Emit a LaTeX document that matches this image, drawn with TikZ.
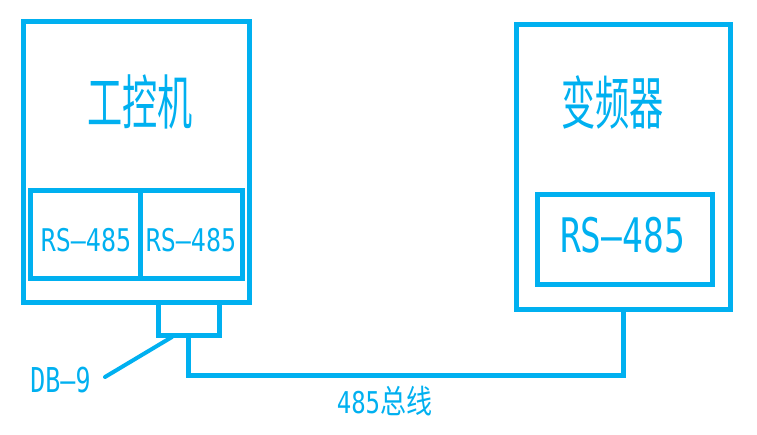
\documentclass[tikz,border=0pt]{standalone}
\usepackage{fontspec}
\newfontfamily\cjk{Noto Sans CJK SC}
\newfontfamily\latf{DejaVu Sans Mono}
\definecolor{cad}{RGB}{0,176,240}
\tikzset{
  box/.style={draw=cad, line width=5pt, rectangle, inner sep=0pt},
  txt/.style={text=cad, inner sep=0pt},
  wire/.style={draw=cad, line width=5pt, line join=miter},
  lead/.style={draw=cad, line width=4pt, line cap=round}
}
\begin{document}
\begin{tikzpicture}[x=1pt,y=-1pt]
\useasboundingbox (0,0) rectangle (757,435);
% industrial PC
\node[box, minimum width=226pt, minimum height=281.5pt] (ipc) at (136,162.25) {};
\node[box, minimum width=110pt, minimum height=88pt] (port1) at (85,235) {};
\node[box, minimum width=102pt, minimum height=88pt] (port2) at (191,235) {};
\node[box, minimum width=61pt, minimum height=32pt] (db9) at (188.5,319) {};
\node[txt] (ipct) at (140,102) {\scalebox{0.95}[1.6]{\fontsize{37}{37}\selectfont\cjk 工控机}};
\node[txt] (p1t) at (86,240) {\scalebox{1}[1.25]{\fontsize{25}{25}\selectfont\latf RS–485}};
\node[txt] (p2t) at (191,240) {\scalebox{1}[1.25]{\fontsize{25}{25}\selectfont\latf RS–485}};
% inverter
\node[box, minimum width=213.5pt, minimum height=285pt] (vfd) at (623.25,167.5) {};
\node[box, minimum width=175.5pt, minimum height=90pt] (vport) at (624.75,240) {};
\node[txt] (vfdt) at (612.5,102.5) {\scalebox{0.95}[1.6]{\fontsize{36}{36}\selectfont\cjk 变频器}};
\node[txt] (vpt) at (622.5,235.5) {\scalebox{1}[1.38]{\fontsize{34.5}{34.5}\selectfont\latf RS–485}};
% bus
\coordinate (busy) at (0,375);
\draw[wire] (db9.south) |- (busy -| vfd.south) -- (vfd.south);
\node[txt] (bust) at (384.5,401.5) {\scalebox{1}[1.25]{{\fontsize{24}{24}\selectfont\latf 485}{\fontsize{26}{26}\selectfont\cjk 总线}}};
% DB-9 label
\node[txt] (dbt) at (60.5,380.5) {\scalebox{1}[1.37]{\fontsize{25}{25}\selectfont\latf DB–9}};
\coordinate (dbtip) at (105,377);
\coordinate (dbjoin) at (172,337);
\draw[lead] (dbtip) -- (dbjoin);
\end{tikzpicture}
\end{document}
